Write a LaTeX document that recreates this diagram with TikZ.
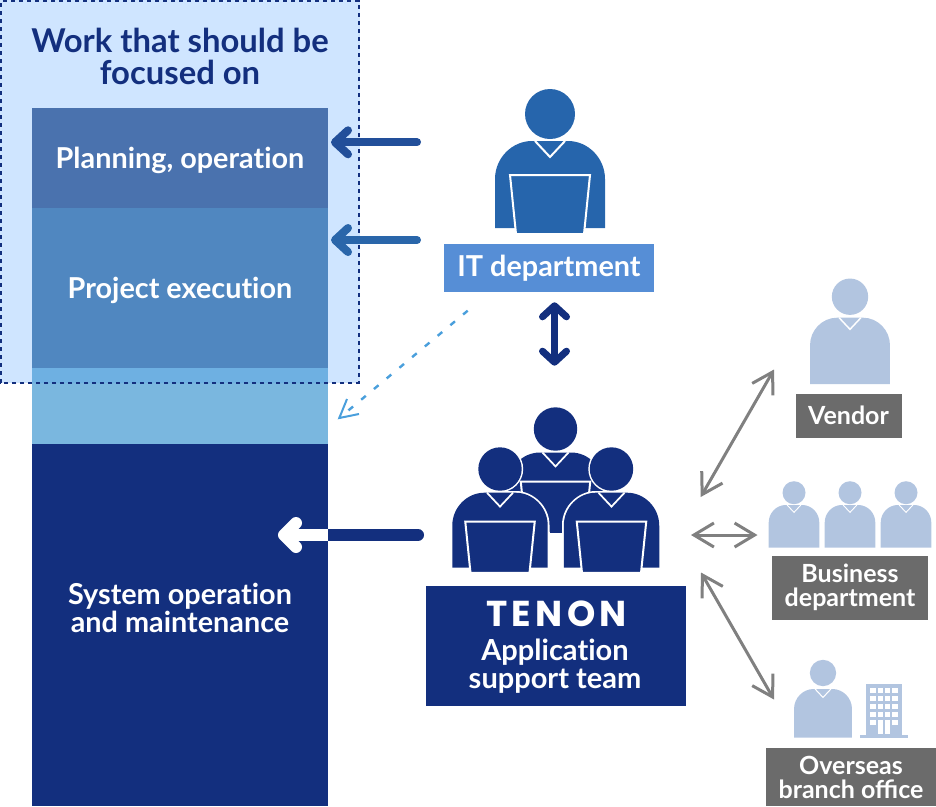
\documentclass[tikz,border=0pt]{standalone}
\usepackage{fontspec}
\setmainfont{Lato}[Ligatures=NoCommon]
\newfontfamily\tenonfont[LetterSpace=12]{Poppins}
\usetikzlibrary{arrows.meta}
\definecolor{navy}{HTML}{132F7E}
\definecolor{focusbg}{HTML}{CFE5FF}
\definecolor{planc}{HTML}{4A72AE}
\definecolor{projc}{HTML}{5087C0}
\definecolor{midc}{HTML}{7AB7DF}
\definecolor{midd}{HTML}{6EB0E2}
\definecolor{itc}{HTML}{2665AC}
\definecolor{itbox}{HTML}{568ED6}
\definecolor{pale}{HTML}{B2C5E0}
\definecolor{greybox}{HTML}{6B6B6B}
\definecolor{greyarr}{HTML}{808080}
\definecolor{arrA}{HTML}{224F9A}
\definecolor{arrB}{HTML}{2A66AA}
\definecolor{dashc}{HTML}{4A9FDC}
\tikzset{
  lbl/.style={inner sep=0pt,text=white,font=\bfseries\fontsize{28.8}{28}\selectfont,align=center},
  box/.style={fill=#1,minimum width=0pt,inner sep=0pt},
  bigarrow/.style={line width=8pt,line cap=round,-{Straight Barb[round,length=13pt,width=24pt]}},
  greylink/.style={draw=greyarr,line width=3pt,{Straight Barb[length=20pt,width=24pt]}-{Straight Barb[length=20pt,width=24pt]}},
}
% \person{cx}{head cy}{scale}{shoulder top}{body bottom}{colour}
\newcommand{\person}[6]{%
  \begin{scope}[shift={(#1,0)}]
    \fill[#6] (-55*#3,#5) -- (-55*#3,{#4+38*#3})
       .. controls (-55*#3,{#4+17*#3}) and (-38*#3,#4) .. (-18*#3,#4)
       -- (18*#3,#4)
       .. controls (38*#3,#4) and (55*#3,{#4+17*#3}) .. (55*#3,{#4+38*#3})
       -- (55*#3,#5) -- cycle;
    \fill[#6] (0,#2) circle ({25*#3});
    \draw[white,line width=#3*2pt] (-15*#3,#4) -- (0,{#4+16*#3}) -- (15*#3,#4);
  \end{scope}}
% \laptop{cx}{top}{scale}{colour}
\newcommand{\laptop}[4]{%
  \begin{scope}[shift={(#1,0)}]
    \fill[#4,draw=white,line width=2pt] (-40*#3,#2) -- (40*#3,#2) -- (34*#3,{#2+59*#3}) -- (-34*#3,{#2+59*#3}) -- cycle;
  \end{scope}}
\begin{document}
\begin{tikzpicture}[x=1pt,y=-1pt]
\useasboundingbox (0,0) rectangle (936,806);
% focus panel
\fill[focusbg] (0,0) rectangle (360,383);
% stack
\fill[planc] (32,108) rectangle (328,208);
\fill[projc] (32,208) rectangle (328,368);
\fill[midd] (32,368) rectangle (328,383);
\fill[midc] (32,383) rectangle (328,444);
\fill[navy] (32,444) rectangle (328,806);
\draw[navy,line width=2pt,dash pattern=on 4pt off 4pt] (1,382.7) -- (1,1) -- (359,1) -- (359,382.7) -- (0,382.7);
\node[lbl,font=\bfseries\fontsize{32.8}{32}\selectfont,text=navy] (title) at (180,56) {Work that should be\\focused on};
\node[lbl] (plan) at (180,160) {Planning, operation};
\node[lbl] (proj) at (180,290) {Project execution};
\node[lbl] (sysop) at (180,608) {System operation\\and maintenance};
% IT dept
\person{550}{114}{1}{141}{228}{itc}
\laptop{550}{175}{1}{itc}
\node[box=itbox,minimum width=210pt,minimum height=48pt] (itbg) at (549,268) {};
\node[lbl] (it) at (549,268) {IT department};
% Tenon
\person{555.5}{429}{.868}{452.5}{533}{navy}
\laptop{555.5}{481.7}{.868}{navy}
\fill[white] (520,533.5) rectangle (590,580);
\fill[navy] (549.5,500) rectangle (563,533);
\foreach \px in {500,611.5}{
  \fill[white] (\px,469) circle (23.2);
  \fill[white] (\px-49.5,567.7) -- (\px-49.5,525) .. controls (\px-49.5,506) and (\px-33,491) .. (\px-16,491) -- (\px+16,491) .. controls (\px+33,491) and (\px+49.5,506) .. (\px+49.5,525) -- (\px+49.5,567.7) -- cycle;
  \person{\px}{469}{.868}{492.7}{567.7}{navy}
  \laptop{\px}{521.7}{.868}{navy}
}
\node[box=navy,minimum width=260pt,minimum height=120pt] (tenonbox) at (556,646) {};
\node[inner sep=0pt,text=white,font=\tenonfont\bfseries\fontsize{36}{38}\selectfont] (tenon) at (556.5,613.5) {TENON};
\node[lbl,font=\bfseries\fontsize{29}{28}\selectfont] (app) at (555,666) {Application\\support team};
% Vendor
\person{850}{296.7}{.727}{317.7}{384}{pale}
\node[box=greybox,minimum width=106pt,minimum height=44pt] (vendorbg) at (849,416) {};
\node[lbl,font=\bfseries\fontsize{25}{24}\selectfont] (vendor) at (848.5,415) {Vendor};
% Business
\foreach \px in {794,850,906}{\person{\px}{492.7}{.46}{505}{547.7}{pale}}
\node[box=greybox,minimum width=156pt,minimum height=64pt] (bizbg) at (850,588) {};
\node[lbl,font=\bfseries\fontsize{25}{24}\selectfont] (biz) at (850,587) {Business\\department};
% Overseas
\person{823}{673}{.527}{689}{737.7}{pale}
\fill[pale] (866,684) rectangle (902,735);
\fill[pale] (860,735) rectangle (908,738);
\foreach \cx in {870.3,877.7,885,892.3}{\foreach \wy in {688,696,704,712,720}{\fill[white] (\cx,\wy) rectangle ++(5.3,5.3);}}
\foreach \cx in {877.7,885}{\fill[white] (\cx,725) rectangle (\cx+5.3,734);}
\node[box=greybox,minimum width=170pt,minimum height=58pt] (overbg) at (851,777) {};
\node[lbl,font=\bfseries\fontsize{25}{24}\selectfont\addfontfeature{Ligatures=Common}] (over) at (851,777) {Overseas\\branch office};
% connectors
\coordinate (planT) at (331,142.3);
\coordinate (planS) at (417,142.3);
\coordinate (projT) at (331,240);
\coordinate (projS) at (417,240);
\draw[bigarrow,draw=arrA] (planS) -- (planT);
\draw[bigarrow,draw=arrB] (projS) -- (projT);
\coordinate (vTop) at (554.5,302.3);
\coordinate (vBot) at (554.5,365.7);
\draw[draw=navy,line width=7pt,{Straight Barb[round,length=11pt,width=24pt]}-{Straight Barb[round,length=11pt,width=24pt]}] (vTop) -- (vBot);
\coordinate (dS) at (467.7,310.7);
\coordinate (dT) at (339.3,418);
\draw[dashc,line width=2.4pt,dash pattern=on 6pt off 10.6pt] (dS) -- (dT);
\draw[dashc,line width=2pt] (347,399) -- (dT) -- (359,414);
\coordinate (sysS) at (418,535);
\coordinate (sysM) at (328,535);
\coordinate (sysT) at (278,535);
\draw[navy,line width=12pt,line cap=round] (sysS) -- (sysM);
\fill[navy] (328,529) rectangle (340,541);
\draw[white,line width=12pt,-{Straight Barb[round,length=12pt,width=24pt]}] (sysM) -- (sysT);
\coordinate (g1a) at (700.7,497);
\coordinate (g1b) at (774,369.5);
\coordinate (g2a) at (691,535);
\coordinate (g2b) at (757.5,535);
\coordinate (g3a) at (701,572.5);
\coordinate (g3b) at (774,699.5);
\draw[greylink] (g1a) -- (g1b);
\draw[greylink] (g2a) -- (g2b);
\draw[greylink] (g3a) -- (g3b);
\end{tikzpicture}
\end{document}
